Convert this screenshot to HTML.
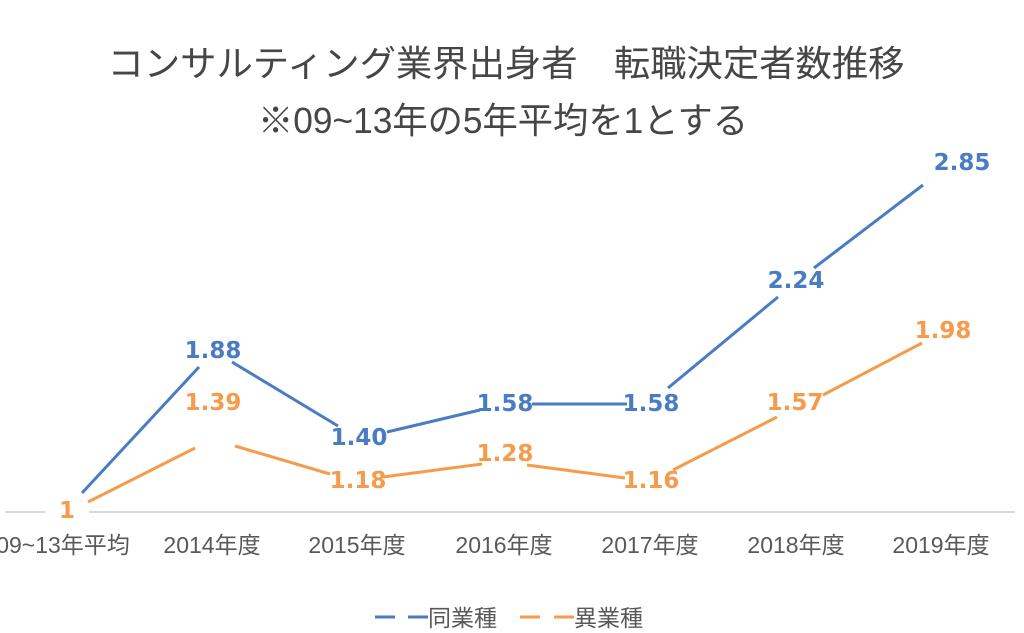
<!DOCTYPE html>
<html>
<head>
<meta charset="utf-8">
<style>
html,body{margin:0;padding:0;background:#fff;}
svg{display:block;}
.t{font-family:"Liberation Sans","Noto Sans CJK JP",sans-serif;fill:#595959;}
.lb{font-family:"DejaVu Sans","Liberation Sans",sans-serif;font-weight:bold;font-size:23px;}
</style>
</head>
<body>
<svg width="1024" height="633" viewBox="0 0 1024 633" xmlns="http://www.w3.org/2000/svg">
<rect width="1024" height="633" fill="#fff"/>
<!-- title -->
<text class="t" x="506" y="76" font-size="36" text-anchor="middle" textLength="797" lengthAdjust="spacingAndGlyphs" style="fill:#464646">コンサルティング業界出身者　転職決定者数推移</text>
<text class="t" x="503" y="133" font-size="36" text-anchor="middle" textLength="490" lengthAdjust="spacingAndGlyphs" style="fill:#464646">※09~13年の5年平均を1とする</text>

<!-- axis line -->
<line x1="5" y1="512" x2="45" y2="512" stroke="#D9D9D9" stroke-width="2"/>
<line x1="89" y1="512" x2="1015" y2="512" stroke="#D9D9D9" stroke-width="2"/>

<!-- blue series -->
<g stroke="#4A7CC4" stroke-width="3" fill="none" stroke-linecap="butt">
<line x1="82" y1="493" x2="199" y2="367"/>
<line x1="232" y1="362" x2="338" y2="426"/>
<line x1="387" y1="432" x2="480" y2="410"/>
<line x1="532" y1="404" x2="627" y2="404"/>
<line x1="668" y1="388" x2="778" y2="297"/>
<line x1="814" y1="268" x2="923" y2="185"/>
</g>
<!-- orange series -->
<g stroke="#F59B4B" stroke-width="3" fill="none" stroke-linecap="butt">
<line x1="88" y1="502" x2="195" y2="448"/>
<line x1="235" y1="446" x2="330" y2="474"/>
<line x1="383" y1="477" x2="482" y2="464"/>
<line x1="527" y1="465" x2="625" y2="478"/>
<line x1="673" y1="470" x2="777" y2="417"/>
<line x1="823" y1="395" x2="922" y2="343"/>
</g>

<!-- data labels blue -->
<g class="lb" fill="#4A7CC4" text-anchor="middle">
<text x="213" y="358">1.88</text>
<text x="359" y="445">1.40</text>
<text x="505" y="411">1.58</text>
<text x="651" y="411">1.58</text>
<text x="796" y="288">2.24</text>
<text x="962" y="170">2.85</text>
</g>
<!-- data labels orange -->
<g class="lb" fill="#F59B4B" text-anchor="middle">
<text x="67" y="518">1</text>
<text x="213" y="410">1.39</text>
<text x="358" y="488">1.18</text>
<text x="505" y="461">1.28</text>
<text x="651" y="488">1.16</text>
<text x="795" y="410">1.57</text>
<text x="943" y="338">1.98</text>
</g>

<!-- category labels -->
<g class="t" font-size="23" text-anchor="middle">
<text x="63" y="553">09~13年平均</text>
<text x="212" y="553">2014年度</text>
<text x="357" y="553">2015年度</text>
<text x="504" y="553">2016年度</text>
<text x="650" y="553">2017年度</text>
<text x="796" y="553">2018年度</text>
<text x="941" y="553">2019年度</text>
</g>

<!-- legend -->
<line x1="375" y1="617" x2="395" y2="617" stroke="#4A7CC4" stroke-width="3"/>
<line x1="408" y1="617" x2="428" y2="617" stroke="#4A7CC4" stroke-width="3"/>
<text class="t" x="428" y="626" font-size="23">同業種</text>
<line x1="520" y1="617" x2="540" y2="617" stroke="#F59B4B" stroke-width="3"/>
<line x1="554" y1="617" x2="574" y2="617" stroke="#F59B4B" stroke-width="3"/>
<text class="t" x="574" y="626" font-size="23">異業種</text>
</svg>
</body>
</html>
